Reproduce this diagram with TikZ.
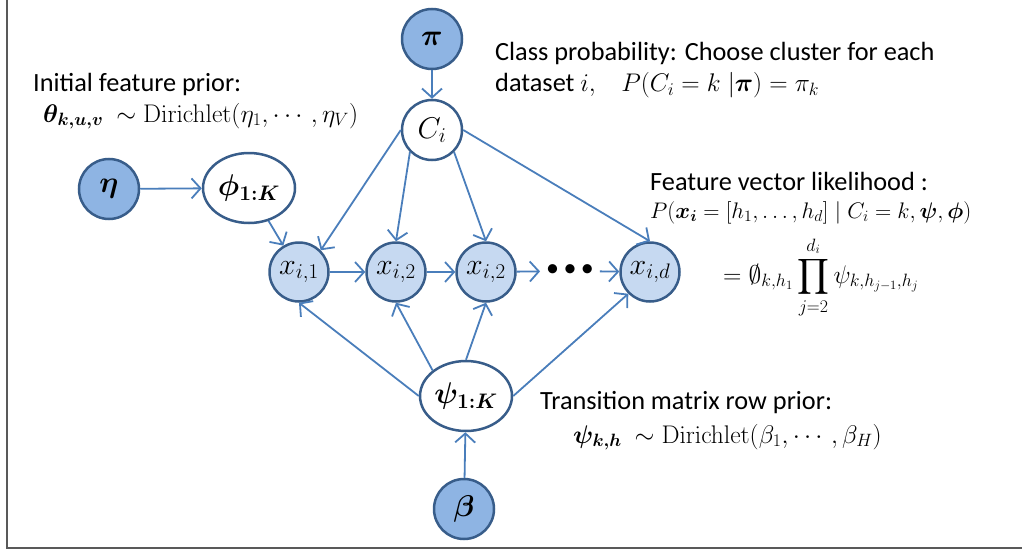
\RequirePackage{fix-cm}
\documentclass[tikz,border=0pt]{standalone}
\usepackage{amsmath}
\usepackage[no-math]{fontspec}
\setmainfont{Carlito}
\usetikzlibrary{arrows.meta,shapes.geometric}

\definecolor{edgeblue}{HTML}{4A7EBB}
\definecolor{rimblue}{HTML}{385D8A}
\definecolor{darkfill}{HTML}{8EB4E3}
\definecolor{lightfill}{HTML}{C6D9F1}
\definecolor{framegray}{HTML}{595959}

\newcommand\lbltext{\fontsize{26.3}{30}\selectfont}
\newcommand\lblmath{\fontsize{25.5}{30}\selectfont}
\newcommand\nodemath{\fontsize{30}{34}\selectfont}

\tikzset{
  basenode/.style={draw=rimblue, line width=2.5pt, inner sep=0pt, font=\nodemath},
  hyper/.style={basenode, circle, fill=darkfill, minimum size=60pt},
  latent/.style={basenode, circle, fill=white, minimum size=60pt},
  observed/.style={basenode, circle, fill=lightfill, minimum size=59pt},
  param/.style={basenode, ellipse, fill=white, minimum width=92pt, minimum height=70pt},
  link/.style={draw=edgeblue, line width=1.8pt,
    -{Straight Barb[length=9pt,width=20pt,line width=1.8pt]}},
  caption/.style={anchor=base west, inner sep=0pt, font=\lbltext},
}

\begin{document}
\begin{tikzpicture}[x=1pt,y=-1pt]
\useasboundingbox (0,0) rectangle (1022,551);

% frame
\draw[framegray, line width=2pt] (7,0) -- (7,548) -- (1022,548);

% nodes
\node[hyper]    (pi)   at (432,39)  {$\boldsymbol{\pi}$};
\node[latent]   (C)    at (432,130) {$C_i$};
\node[hyper]    (eta)  at (109,189) {$\boldsymbol{\eta}$};
\node[param]    (phi)  at (249,188) {$\boldsymbol{\phi_{1:K}}$};
\node[observed] (x1)   at (299,272) {$x_{i,1}$};
\node[observed] (x2)   at (396,272) {$x_{i,2}$};
\node[observed] (x3)   at (486,272) {$x_{i,2}$};
\node[inner sep=0pt, font=\fontsize{26}{30}\selectfont] (dots) at (570,271) {\textbullet\,\textbullet\,\textbullet};
\node[observed] (xd)   at (650,272) {$x_{i,d}$};
\node[param]    (psi)  at (466,396) {$\boldsymbol{\psi_{1:K}}$};
\node[hyper]    (beta) at (464,509) {$\boldsymbol{\beta}$};

% edges
\draw[link] (pi) -- (C);
\draw[link] (eta) -- (phi);
\draw[link] (phi) -- (x1);
\draw[link] (C.west) -- (x1.north east);
\draw[link] (C.south west) -- (x2.north);
\draw[link] (C.south east) -- (x3.north);
\draw[link] (C.east) -- (xd.north);
\draw[link] (x1) -- (x2);
\draw[link] (x2) -- (x3);
\draw[link, shorten >=6pt] (x3) -- (dots);
\draw[link, shorten <=6pt] (dots) -- (xd);
\draw[link] (psi.west) -- (x1.south);
\draw[link] (psi.north west) -- (x2.south);
\draw[link] (psi.north) -- (x3.south);
\draw[link] (psi.east) -- (xd.south west);
\draw[link] (beta) -- (psi);

% captions
\node[caption] (initT) at (33,91) {Initial feature prior:};
\node[caption] (initM) at (43,122) {\lblmath$\boldsymbol{\theta_{k,u,v}}\ \sim \mathrm{Dirichlet}(\eta_1,\cdots,\eta_V)$};

\node[caption] (classT) at (495,60) {Class probability: Choose cluster for each};
\node[caption] (classM) at (495,92) {dataset {\lblmath$i,\;\;\; P(C_i = k\;|\boldsymbol{\pi}) = \pi_k$}};

\node[caption] (likeT) at (650,190) {Feature vector likelihood :};
\node[caption] (likeM) at (650,218) {\fontsize{22.5}{27}\selectfont$P(\boldsymbol{x_i} = [h_1, \ldots, h_d]\;|\; C_i = k, \boldsymbol{\psi}, \boldsymbol{\phi})$};
\node[caption] (likeP) at (723,283) {\lblmath$\displaystyle = \emptyset_{k,h_1} \prod_{j=2}^{d_i} \psi_{k,h_{j-1},h_j}$};

\node[caption] (transT) at (540,409) {Transition matrix row prior:};
\node[caption] (transM) at (573,443) {\lblmath$\boldsymbol{\psi_{k,h}}\ \sim \mathrm{Dirichlet}(\beta_1,\cdots,\beta_H)$};
\end{tikzpicture}
\end{document}
